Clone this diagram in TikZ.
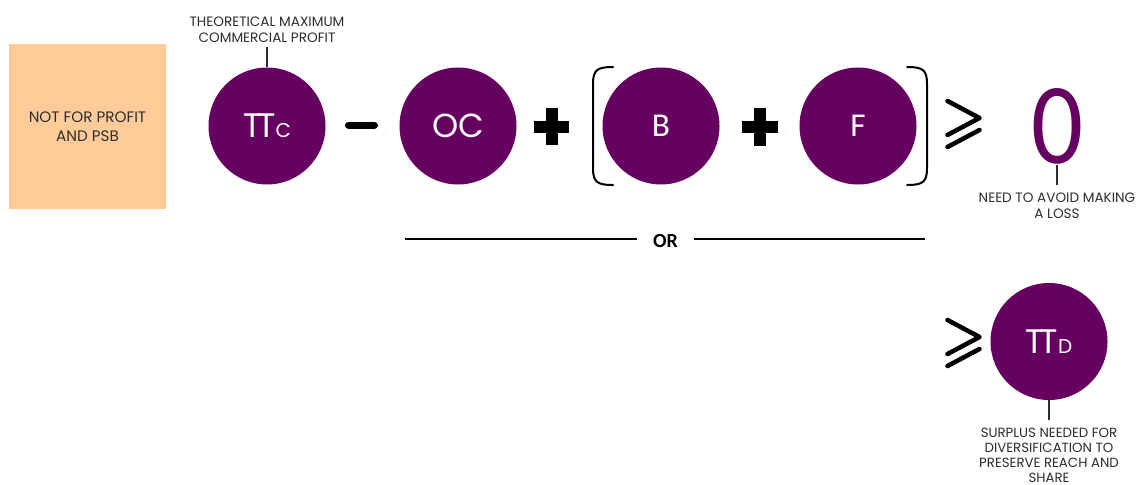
\documentclass[tikz,border=0pt]{standalone}
\usepackage{fontspec}
\usepackage{graphicx}
\setmainfont{Poppins}
\newfontfamily\calib{Carlito}
\definecolor{plum}{RGB}{102,0,96}
\definecolor{peach}{RGB}{255,204,153}
\definecolor{ink}{RGB}{45,45,45}
\begin{document}
\begin{tikzpicture}[x=0.75pt,y=-0.75pt,
  coin/.style={circle,fill=plum,minimum size=87.75pt,inner sep=0pt,text=white},
  note/.style={align=center,text=ink,inner sep=0pt,font=\fontsize{10.2}{12}\selectfont},
  tick/.style={draw=ink,line width=0.9pt},
  brace/.style={line width=1.5pt,line cap=round},
  opbar/.style={line width=9pt},
  minusbar/.style={line width=5.25pt,line cap=round},
  geq/.style={line width=3.4pt,line cap=round,line join=round},
  rule/.style={line width=0.9pt}
]
\useasboundingbox (0,0) rectangle (1138,485);

% left-hand category box
\node[fill=peach,minimum width=117.75pt,minimum height=123.75pt,inner sep=0pt,
      align=center,text=ink,font=\fontsize{11.4}{13.9}\selectfont] (npf) at (87.5,126.5)
      {NOT FOR PROFIT\\AND PSB};

% first inequality: TTc - OC + [B + F] >= 0
\node[coin,font=\fontsize{25.5}{25.5}\selectfont] (ttc) at (267,126)
      {T\kern-3.2pt T{\fontsize{15}{15}\selectfont C}};
\node[coin,font=\fontsize{25}{25}\selectfont] (oc) at (458,126) {OC};
\node[coin,font=\calib\fontsize{25}{25}\selectfont] (bb) at (661,126) {B};
\node[coin,font=\calib\fontsize{25}{25}\selectfont] (ff) at (858,126) {F};

% operators
\coordinate (minA) at (348.5,125);
\coordinate (minB) at (374.5,125);
\draw[minusbar] (minA) -- (minB);
\coordinate (p1c) at (551.5,126.5);
\draw[opbar] ([xshift=-13.1pt]p1c) -- ([xshift=13.1pt]p1c);
\draw[opbar] ([yshift=13.9pt]p1c) -- ([yshift=-13.9pt]p1c);
\coordinate (p2c) at (760,127);
\draw[opbar] ([xshift=-13.5pt]p2c) -- ([xshift=13.5pt]p2c);
\draw[opbar] ([yshift=13.9pt]p2c) -- ([yshift=-13.9pt]p2c);

% square brackets round B + F
\draw[brace] (613,67) .. controls (597,67) and (593,70) .. (593,84) -- (593,168)
      .. controls (593,182) and (597,185) .. (613,185);
\draw[brace] (907,67) .. controls (923,67) and (927,70) .. (927,84) -- (927,168)
      .. controls (927,182) and (923,185) .. (907,185);

% greater-or-equal sign
\draw[geq] (947.5,101) -- (979.5,118) -- (947.5,135);
\draw[geq] (947.5,147) -- (979.5,130);

% zero target
\node[inner sep=0pt,text=plum,anchor=south] (zero) at (1057,165)
      {\resizebox{39pt}{56.25pt}{\calib 0}};
\coordinate (zerotick) at (1057,185);
\draw[tick] (zero.south) -- (zerotick);
\node[note] (zeronote) at (1057,205.5) {NEED TO AVOID MAKING\\A LOSS};

% label over TTc
\node[note] (ttcnote) at (267,30) {THEORETICAL MAXIMUM\\COMMERCIAL PROFIT};
\coordinate (ttctick) at (267,47);
\draw[tick] (ttc.north) -- (ttctick);

% separator
\node[font=\calib\bfseries\fontsize{15}{15}\selectfont] (or) at (665.5,241) {OR};
\coordinate (ruleL) at (405,239);
\coordinate (ruleR) at (925,239);
\draw[rule] (ruleL) -- (ruleL -| 637,0);
\draw[rule] (ruleR -| 694,0) -- (ruleR);

% second inequality: >= TTd
\begin{scope}[yshift=-164.25pt]
\draw[geq] (947.5,101) -- (979.5,118) -- (947.5,135);
\draw[geq] (947.5,147) -- (979.5,130);
\end{scope}
\node[coin,font=\fontsize{25.5}{25.5}\selectfont] (ttd) at (1049,341.5)
      {T\kern-3.2pt T{\fontsize{15}{15}\selectfont D}};
\coordinate (ttdtick) at (1049,420);
\draw[tick] (ttd.south) -- (ttdtick);
\node[note,font=\fontsize{10}{11.3}\selectfont] (ttdnote) at (1049,455)
      {SURPLUS NEEDED FOR\\DIVERSIFICATION TO\\PRESERVE REACH AND\\SHARE};
\end{tikzpicture}
\end{document}
